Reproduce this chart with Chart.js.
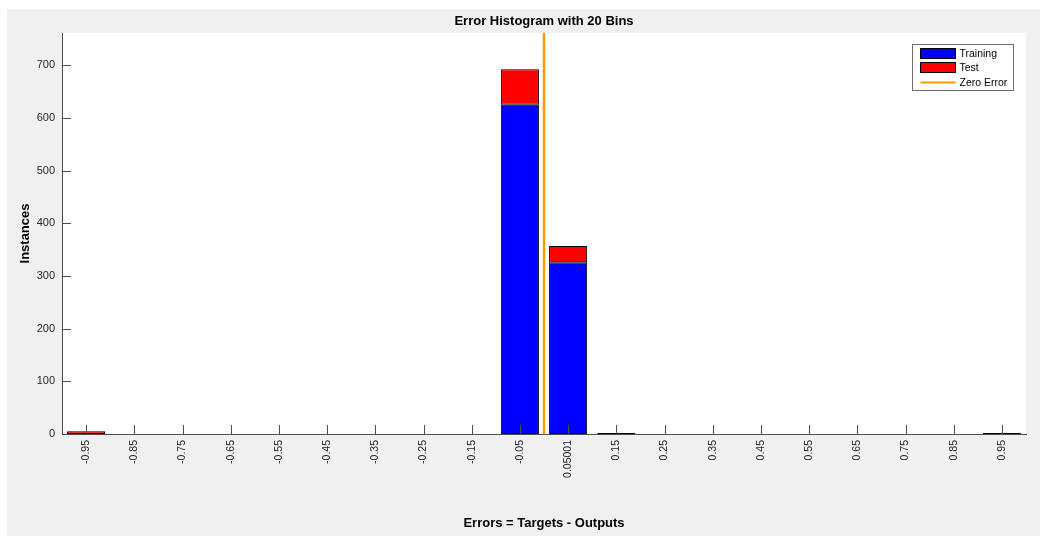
<!DOCTYPE html>
<html>
<head>
<meta charset="utf-8">
<script src="https://cdn.jsdelivr.net/npm/chart.js@4.4.1/dist/chart.umd.min.js"></script>
<style>
  html, body { margin: 0; padding: 0; background: #ffffff; }
  #wrap { width: 1040px; height: 536px; position: relative; }
</style>
</head>
<body>
<div id="wrap"><canvas id="hist" width="1040" height="536"></canvas></div>
<script>
// Bin centres of the error histogram (20 bins)
const binLabels = ['-0.95', '-0.85', '-0.75', '-0.65', '-0.55', '-0.45', '-0.35', '-0.25', '-0.15', '-0.05',
                   '0.05001', '0.15', '0.25', '0.35', '0.45', '0.55', '0.65', '0.75', '0.85', '0.95'];
// Instances per bin
const trainingCounts = [0, 0, 0, 0, 0, 0, 0, 0, 0, 625, 326, 2, 0, 0, 0, 0, 0, 0, 0, 2];
const testCounts     = [5, 0, 0, 0, 0, 0, 0, 0, 0, 67, 31, 0, 0, 0, 0, 0, 0, 0, 0, 0];
// Vertical axis
const yTickValues = [0, 100, 200, 300, 400, 500, 600, 700];
const yMax = 761;
// Error range spanned by the bins, and the zero-error marker
const errorRange = [-1, 1];
const zeroError = 0;

const chartTitle = 'Error Histogram with 20 Bins';
const FONT = '"Liberation Sans", Arial, Helvetica, sans-serif';

// Figure background, white axes area
const backdrop = {
  id: 'backdrop',
  beforeDraw(chart) {
    const { ctx, chartArea: a } = chart;
    ctx.save();
    ctx.fillStyle = '#ffffff';
    ctx.fillRect(0, 0, chart.width, chart.height);
    ctx.fillStyle = '#f0f0f0';
    ctx.fillRect(7, 9, chart.width - 7, chart.height - 9);
    ctx.fillStyle = '#ffffff';
    ctx.fillRect(a.left, a.top, a.right - a.left, a.bottom - a.top);
    ctx.restore();
  }
};

// Inward tick marks, title and legend box
const decorations = {
  id: 'decorations',
  afterDatasetsDraw(chart) {
    const { ctx, chartArea: a, scales } = chart;
    const tickLen = 9;
    ctx.save();
    ctx.strokeStyle = '#4d4d4d';
    ctx.lineWidth = 1;
    ctx.beginPath();
    scales.y.ticks.forEach((t, i) => {
      const py = Math.round(scales.y.getPixelForTick(i)) + 0.5;
      ctx.moveTo(a.left, py);
      ctx.lineTo(a.left + tickLen, py);
    });
    scales.x.ticks.forEach((t, i) => {
      const px = Math.round(scales.x.getPixelForTick(i)) + 0.5;
      ctx.moveTo(px, a.bottom);
      ctx.lineTo(px, a.bottom - tickLen);
    });
    ctx.stroke();
    ctx.restore();
  },
  afterDraw(chart) {
    const { ctx, chartArea: a } = chart;
    ctx.save();
    // title
    ctx.fillStyle = '#000000';
    ctx.font = 'bold 13px ' + FONT;
    ctx.textAlign = 'center';
    ctx.textBaseline = 'middle';
    ctx.fillText(chartTitle, (a.left + a.right) / 2, 21);

    // legend
    const ds = chart.data.datasets;
    const bx = a.right - 113.5, by = a.top + 11.5, bw = 101, bh = 46;
    ctx.fillStyle = '#ffffff';
    ctx.fillRect(bx, by, bw, bh);
    ctx.strokeStyle = '#6e6e6e';
    ctx.lineWidth = 1;
    ctx.strokeRect(bx, by, bw, bh);
    const entries = [ds[1], ds[2], ds[0]];
    const rows = [by + 9, by + 23, by + 38];
    ctx.font = '10.5px ' + FONT;
    ctx.textAlign = 'left';
    entries.forEach((d, i) => {
      const cy = rows[i];
      const sx = bx + 8, sw = 35;
      if (d.type === 'line') {
        ctx.strokeStyle = d.borderColor;
        ctx.lineWidth = 2;
        ctx.beginPath();
        ctx.moveTo(sx, cy);
        ctx.lineTo(sx + sw, cy);
        ctx.stroke();
      } else {
        ctx.fillStyle = d.backgroundColor;
        ctx.fillRect(sx, cy - 5, sw, 10);
        ctx.strokeStyle = '#000000';
        ctx.lineWidth = 1;
        ctx.strokeRect(sx, cy - 5, sw, 10);
      }
      ctx.fillStyle = '#000000';
      ctx.textBaseline = 'middle';
      ctx.fillText(d.label, sx + sw + 4, cy + 0.5);
    });
    ctx.restore();
  }
};

new Chart(document.getElementById('hist'), {
  type: 'bar',
  data: {
    labels: binLabels,
    datasets: [
      {
        type: 'line',
        label: 'Zero Error',
        xAxisID: 'xErr',
        data: [{ x: zeroError, y: 0 }, { x: zeroError, y: yMax }],
        borderColor: '#ff9a00',
        borderWidth: 2.5,
        pointRadius: 0,
        fill: false,
        order: 0
      },
      {
        type: 'bar',
        label: 'Training',
        xAxisID: 'x',
        stack: 'bins',
        grouped: false,
        data: trainingCounts,
        backgroundColor: '#0000ff',
        borderColor: '#000000',
        borderWidth: 1,
        borderSkipped: false,
        categoryPercentage: 1,
        barPercentage: 0.79,
        order: 1
      },
      {
        type: 'bar',
        label: 'Test',
        xAxisID: 'x',
        stack: 'bins',
        grouped: false,
        data: testCounts,
        backgroundColor: '#ff0000',
        borderColor: '#000000',
        borderWidth: 1,
        borderSkipped: false,
        categoryPercentage: 1,
        barPercentage: 0.79,
        order: 1
      }
    ]
  },
  options: {
    responsive: false,
    animation: false,
    devicePixelRatio: 1,
    layout: { padding: { left: 7, right: 14, top: 33, bottom: 0 } },
    plugins: {
      legend: { display: false },
      title: { display: false },
      tooltip: { enabled: false }
    },
    scales: {
      x: {
        type: 'category',
        stacked: true,
        offset: true,
        grid: { display: false, drawTicks: false },
        border: { display: true, color: '#4d4d4d', width: 1 },
        ticks: {
          autoSkip: false,
          minRotation: 90,
          maxRotation: 90,
          padding: 6,
          color: '#262626',
          font: { family: FONT, size: 10.5 }
        },
        title: {
          display: true,
          text: 'Errors = Targets - Outputs',
          color: '#000000',
          font: { family: FONT, size: 13, weight: 'bold' },
          padding: { top: 0, bottom: 5.2 }
        },
        afterFit(scale) {
          scale.height = 102;
          scale.paddingLeft = 0;
          scale.paddingRight = 0;
        }
      },
      xErr: {
        type: 'linear',
        display: false,
        min: errorRange[0],
        max: errorRange[1]
      },
      y: {
        stacked: true,
        min: 0,
        max: yMax,
        grid: { display: false, drawTicks: false },
        border: { display: true, color: '#4d4d4d', width: 1 },
        afterBuildTicks(scale) {
          scale.ticks = yTickValues.map(v => ({ value: v }));
        },
        ticks: {
          padding: 7,
          color: '#262626',
          font: { family: FONT, size: 11 }
        },
        title: {
          display: true,
          text: 'Instances',
          color: '#000000',
          font: { family: FONT, size: 13, weight: 'bold' },
          padding: { top: 10.2, bottom: 0 }
        },
        afterFit(scale) {
          scale.width = 55;
          scale.paddingTop = 0;
          scale.paddingBottom = 0;
        }
      }
    }
  },
  plugins: [backdrop, decorations]
});
</script>
</body>
</html>
